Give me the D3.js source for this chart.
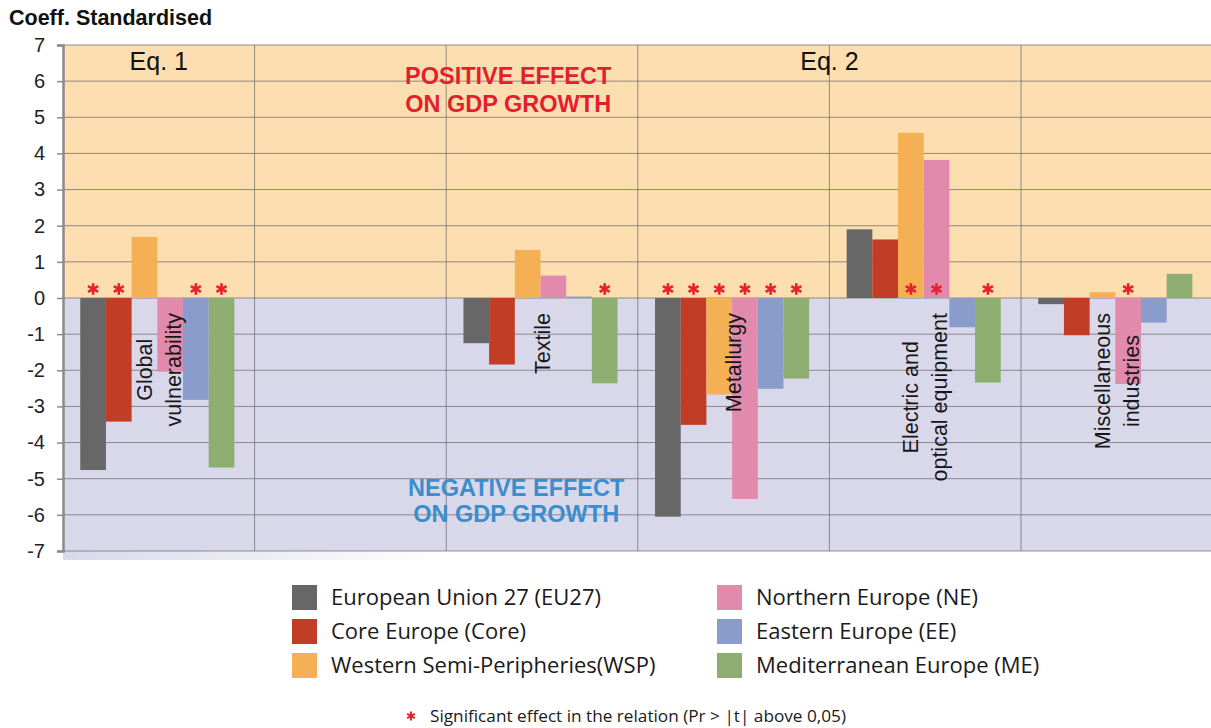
<!DOCTYPE html>
<html>
<head>
<meta charset="utf-8">
<script src="https://cdn.jsdelivr.net/npm/d3@7"></script>
<style>
	body { margin: 0; background: #fff; }
	svg { display: block; }
</style>
</head>
<body>
<svg id="chart" width="1211" height="728"></svg>
<script>
//categories (one group per sector, the second one is empty)
var categoryLines = [["Global", "vulnerability"], [], ["Textile"], ["Metallurgy"], ["Electric and", "optical equipment"], ["Miscellaneous", "industries"]];

//series
var seriesNames = ["European Union 27 (EU27)", "Core Europe (Core)", "Western Semi-Peripheries(WSP)", "Northern Europe (NE)", "Eastern Europe (EE)", "Mediterranean Europe (ME)"];
var seriesColors = ["#676767", "#c13d25", "#f5b055", "#e18aab", "#8a9ccb", "#8dae70"];

//standardised coefficients, one value per category
var valuesEU27 = [-4.76, null, -1.25, -6.05, 1.90, -0.17];
var valuesCore = [-3.42, null, -1.84, -3.51, 1.62, -1.03];
var valuesWSP  = [ 1.69, null,  1.33, -2.67, 4.57,  0.16];
var valuesNE   = [-2.04, null,  0.62, -5.56, 3.82, -2.38];
var valuesEE   = [-2.82, null,  0.04, -2.51, -0.81, -0.68];
var valuesME   = [-4.69, null, -2.36, -2.23, -2.34,  0.67];

//significant effect (red star), one flag per category
var sigEU27 = [1, 0, 0, 1, 0, 0];
var sigCore = [1, 0, 0, 1, 0, 0];
var sigWSP  = [0, 0, 0, 1, 1, 0];
var sigNE   = [0, 0, 0, 1, 1, 1];
var sigEE   = [1, 0, 0, 1, 0, 0];
var sigME   = [1, 0, 1, 1, 1, 0];

//axis ticks
var yTickValues = [-7, -6, -5, -4, -3, -2, -1, 0, 1, 2, 3, 4, 5, 6, 7];

//equation headers and the categories they span
var equationLabels = ["Eq. 1", "Eq. 2"];
var equationFirst = [0, 2];
var equationLast = [0, 5];

var allValues = [valuesEU27, valuesCore, valuesWSP, valuesNE, valuesEE, valuesME];
var allSig = [sigEU27, sigCore, sigWSP, sigNE, sigEE, sigME];

var svg = d3.select("#chart");
var plotLeft = 63, plotRight = 1212.6, plotTop = 45, plotBottom = 551;
var starColor = "#e8202c";
var arial = "Arial, 'Liberation Sans', sans-serif";

var x = d3.scaleBand().domain(d3.range(categoryLines.length)).range([plotLeft, plotRight]);
var xInner = d3.scaleBand().domain(d3.range(seriesNames.length)).range([0, x.bandwidth()]).paddingOuter(0.73).align(0.46);
var y = d3.scaleLinear().domain([-7, 7]).range([plotBottom, plotTop]);

//shadow under the plot
var defs = svg.append("defs");
var grad = defs.append("linearGradient").attr("id", "shadow").attr("x1", 0).attr("x2", 1);
grad.append("stop").attr("offset", 0).attr("stop-color", "#d9d8eb");
grad.append("stop").attr("offset", 1).attr("stop-color", "#ffffff");
svg.append("rect").attr("x", plotLeft).attr("y", plotBottom).attr("width", 380).attr("height", 9).attr("fill", "url(#shadow)");

//background: positive / negative halves
svg.append("rect").attr("x", plotLeft).attr("y", y(7)).attr("width", plotRight - plotLeft).attr("height", y(0) - y(7)).attr("fill", "#fcdeb1");
svg.append("rect").attr("x", plotLeft).attr("y", y(0)).attr("width", plotRight - plotLeft).attr("height", y(-7) - y(0)).attr("fill", "#d9d8eb");

//grid
svg.append("g").selectAll("line").data(yTickValues).join("line")
	.attr("x1", plotLeft).attr("x2", plotRight)
	.attr("y1", function(d) { return y(d); }).attr("y2", function(d) { return y(d); })
	.attr("stroke", "#6e6e6e").attr("stroke-opacity", 0.75).attr("stroke-width", 1);
svg.append("g").selectAll("line").data(d3.range(1, categoryLines.length)).join("line")
	.attr("x1", function(d) { return x(d); }).attr("x2", function(d) { return x(d); })
	.attr("y1", plotTop).attr("y2", plotBottom)
	.attr("stroke", "#6e6e6e").attr("stroke-opacity", 0.75).attr("stroke-width", 1);

//bars
var barData = [];
allValues.forEach(function(vals, s) {
	vals.forEach(function(v, c) {
		if (v !== null)
			barData.push({cat: c, serie: s, value: v, sig: allSig[s][c]});
	});
});

svg.append("g").selectAll("rect").data(barData).join("rect")
	.attr("x", function(d) { return x(d.cat) + xInner(d.serie); })
	.attr("width", xInner.bandwidth())
	.attr("y", function(d) { return y(Math.max(0, d.value)); })
	.attr("height", function(d) { return Math.abs(y(d.value) - y(0)); })
	.attr("fill", function(d) { return seriesColors[d.serie]; });

//category labels (rotated)
var labelG = svg.append("g");
categoryLines.forEach(function(lines, c) {
	if (lines.length == 0) return;
	var cx = x(c) + x.bandwidth() / 2;
	var t = labelG.append("text")
		.attr("font-family", arial)
		.attr("font-size", 21.5).attr("fill", "#161616")
		.attr("text-anchor", "middle");
	lines.forEach(function(l, i) {
		t.append("tspan").attr("x", 0).attr("y", (i - (lines.length - 1) / 2) * 29).attr("dy", "0.35em").text(l);
	});
	var maxLen = d3.max(t.selectAll("tspan").nodes(), function(n) { return n.getComputedTextLength(); });
	var cy = y(0) + 15 + maxLen / 2;
	t.attr("transform", "translate(" + cx + "," + cy + ") rotate(-90)");
});

//significance stars
var star = d3.symbol().type(d3.symbolAsterisk).size(95);
svg.append("g").selectAll("path").data(barData.filter(function(d) { return d.sig; })).join("path")
	.attr("d", star)
	.attr("transform", function(d) { return "translate(" + (x(d.cat) + xInner(d.serie) + xInner.bandwidth() / 2) + "," + (y(0) - 9) + ")"; })
	.attr("fill", "none").attr("stroke", starColor).attr("stroke-width", 2.6);

//equation headers
equationLabels.forEach(function(l, i) {
	var x0 = x(equationFirst[i]), x1 = x(equationLast[i]) + x.bandwidth();
	svg.append("text").attr("x", (x0 + x1) / 2).attr("y", y(7) + 25)
		.attr("text-anchor", "middle")
		.attr("font-family", arial).attr("font-size", 25).attr("fill", "#111")
		.text(l);
});

//effect annotations
function effectText(lines, color, xCenter, yVals) {
	lines.forEach(function(l, i) {
		svg.append("text").attr("x", xCenter).attr("y", y(yVals[i]))
			.attr("text-anchor", "middle")
			.attr("font-family", arial).attr("font-weight", "bold")
			.attr("font-size", 23.5).attr("fill", color)
			.text(l);
	});
}
effectText(["POSITIVE EFFECT", "ON GDP GROWTH"], "#e41f2d", x(2) + 62, [5.93, 5.15]);
effectText(["NEGATIVE EFFECT", "ON GDP GROWTH"], "#3b8dcb", x(2) + 70, [-5.48, -6.2]);

//y axis
var yAxis = d3.axisLeft(y).tickValues(yTickValues).tickSize(6).tickPadding(12)
	.tickFormat(function(d) { return String(d); });
var axisG = svg.append("g").attr("transform", "translate(" + plotLeft + ",0)").call(yAxis);
axisG.select(".domain").attr("stroke", "#8a8a8a").attr("stroke-width", 2.5);
axisG.selectAll(".tick line").attr("stroke", "#8a8a8a").attr("stroke-width", 1.5);
axisG.selectAll(".tick text").attr("font-family", arial).attr("font-size", 20).attr("fill", "#222");

//title
svg.append("text").attr("x", 9).attr("y", 25)
	.attr("font-family", arial).attr("font-weight", "bold").attr("font-size", 21.5).attr("fill", "#111")
	.text("Coeff. Standardised");

//legend
var legendCols = [292, 717], legendTop = 585, legendRow = 34;
var legend = svg.append("g").selectAll("g").data(seriesNames).join("g")
	.attr("transform", function(d, i) { return "translate(" + legendCols[Math.floor(i / 3)] + "," + (legendTop + (i % 3) * legendRow) + ")"; });
legend.append("rect").attr("width", 25).attr("height", 25).attr("fill", function(d, i) { return seriesColors[i]; });
legend.append("text").attr("x", 39).attr("y", 12.5).attr("dy", "0.36em")
	.attr("font-family", "'Open Sans', sans-serif").attr("font-size", 22).attr("fill", "#1a1a1a")
	.text(function(d) { return d; });

//footer note
svg.append("path").attr("d", d3.symbol().type(d3.symbolAsterisk).size(55))
	.attr("transform", "translate(411,716)").attr("fill", "none").attr("stroke", starColor).attr("stroke-width", 2);
svg.append("text").attr("x", 430).attr("y", 716).attr("dy", "0.36em")
	.attr("font-family", "'Open Sans', sans-serif").attr("font-size", 17.2).attr("fill", "#1a1a1a")
	.text("Significant effect in the relation (Pr > |t| above 0,05)");
</script>
</body>
</html>
